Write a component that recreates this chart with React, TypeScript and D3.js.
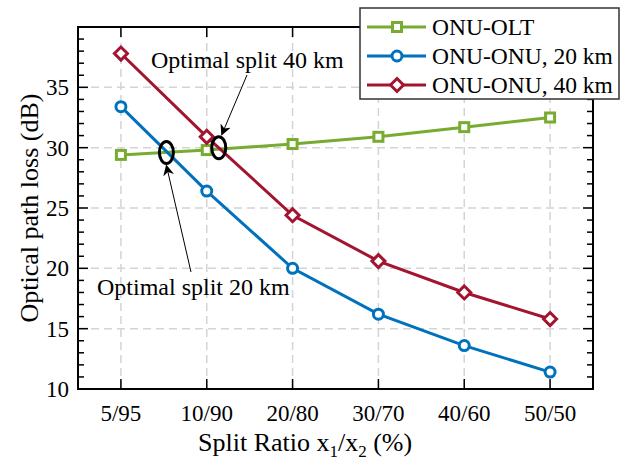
import React from "react";
import * as d3 from "d3";

const categories = ["5/95", "10/90", "20/80", "30/70", "40/60", "50/50"];
const onuOlt = [29.4, 29.8, 30.3, 30.9, 31.7, 32.5];
const onuOnu20 = [33.4, 26.4, 20.0, 16.2, 13.6, 11.4];
const onuOnu40 = [37.8, 30.9, 24.4, 20.6, 18.0, 15.8];
const yTicks = [10, 15, 20, 25, 30, 35];
const seriesNames = ["ONU-OLT", "ONU-ONU, 20 km", "ONU-ONU, 40 km"];

const W = 627;
const H = 463;
const margin = { top: 27, right: 34, bottom: 74, left: 78 };

const colors = ["#77AC30", "#0072BD", "#A2142F"];
const font = "'Liberation Serif', 'Times New Roman', serif";

function Marker({ kind, x, y, color }: { kind: string; x: number; y: number; color: string }) {
  if (kind === "square")
    return <rect x={x - 4.5} y={y - 4.5} width={9} height={9} fill="white" stroke={color} strokeWidth={3} />;
  if (kind === "circle") return <circle cx={x} cy={y} r={5} fill="white" stroke={color} strokeWidth={3} />;
  const s = 6.5;
  return (
    <path
      d={`M${x},${y - s}L${x + s},${y}L${x},${y + s}L${x - s},${y}Z`}
      fill="white"
      stroke={color}
      strokeWidth={3}
    />
  );
}

export default function App() {
  const x = d3
    .scaleLinear()
    .domain([-0.5, categories.length - 0.5])
    .range([margin.left, W - margin.right]);
  const y = d3.scaleLinear().domain([10, 40]).range([H - margin.bottom, margin.top]);
  const minor = d3.range(10, 41, 1);

  const series = [
    { name: seriesNames[0], values: onuOlt, color: colors[0], kind: "square" },
    { name: seriesNames[1], values: onuOnu20, color: colors[1], kind: "circle" },
    { name: seriesNames[2], values: onuOnu40, color: colors[2], kind: "diamond" },
  ];

  const line = d3
    .line<number>()
    .x((_, i) => x(i))
    .y((d) => y(d));

  const x0 = margin.left;
  const x1 = W - margin.right;
  const y0 = H - margin.bottom;
  const y1 = margin.top;

  // crossing points (where the ellipses go)
  const cross20 = { x: x(0.53), y: y(29.6) };
  const cross40 = { x: x(1.14), y: y(30.0) };

  return (
    <svg width={W} height={H} style={{ position: "absolute", left: 0, top: 0 }} fontFamily={font}>
      <defs>
        <marker id="arrow" viewBox="0 0 10 10" refX="9" refY="5" markerWidth="11" markerHeight="11" orient="auto-start-reverse" markerUnits="userSpaceOnUse">
          <path d="M0,0L10,5L0,10L3,5Z" fill="black" />
        </marker>
      </defs>
      <rect x={0} y={0} width={W} height={H} fill="white" />

      {/* grid */}
      <g stroke="#d4d4d4" strokeWidth={1.5} strokeDasharray="8,5">
        {yTicks.slice(1).map((t) => (
          <line key={"gy" + t} x1={x0} x2={x1} y1={y(t)} y2={y(t)} />
        ))}
        {categories.map((c, i) => (
          <line key={"gx" + c} x1={x(i)} x2={x(i)} y1={y0} y2={y1} />
        ))}
      </g>

      {/* ticks */}
      <g stroke="black" strokeWidth={1.5}>
        {minor.map((t) => {
          const len = t % 5 === 0 ? 10 : 6;
          return (
            <g key={"t" + t}>
              <line x1={x0} x2={x0 + len} y1={y(t)} y2={y(t)} />
              <line x1={x1} x2={x1 - len} y1={y(t)} y2={y(t)} />
            </g>
          );
        })}
        {categories.map((c, i) => (
          <g key={"xt" + c}>
            <line x1={x(i)} x2={x(i)} y1={y0} y2={y0 - 10} />
            <line x1={x(i)} x2={x(i)} y1={y1} y2={y1 + 10} />
          </g>
        ))}
      </g>

      {/* series */}
      {series.map((s) => (
        <g key={s.name}>
          <path d={line(s.values) || ""} fill="none" stroke={s.color} strokeWidth={3} />
          {s.values.map((v, i) => (
            <Marker key={i} kind={s.kind} x={x(i)} y={y(v)} color={s.color} />
          ))}
        </g>
      ))}

      {/* frame */}
      <rect x={x0} y={y1} width={x1 - x0} height={y0 - y1} fill="none" stroke="black" strokeWidth={2} />

      {/* annotations */}
      <ellipse cx={cross20.x} cy={cross20.y} rx={7} ry={11} fill="none" stroke="black" strokeWidth={3} />
      <ellipse cx={cross40.x} cy={cross40.y} rx={7} ry={11} fill="none" stroke="black" strokeWidth={3} />
      <line x1={191} y1={272} x2={cross20.x} y2={cross20.y + 13} stroke="black" strokeWidth={1} markerEnd="url(#arrow)" />
      <line x1={247} y1={75} x2={cross40.x + 3} y2={cross40.y - 13} stroke="black" strokeWidth={1} markerEnd="url(#arrow)" />
      <text x={151} y={68} fontSize={24}>Optimal split 40 km</text>
      <text x={97} y={295} fontSize={24}>Optimal split 20 km</text>

      {/* tick labels */}
      {yTicks.map((t) => (
        <text key={"yl" + t} x={69} y={y(t) + 8} fontSize={23} textAnchor="end">
          {t}
        </text>
      ))}
      {categories.map((c, i) => (
        <text key={"xl" + c} x={x(i)} y={421} fontSize={23} textAnchor="middle">
          {c}
        </text>
      ))}

      {/* axis labels */}
      <text x={198} y={451} fontSize={26}>
        Split Ratio x<tspan fontSize={17} dy={6}>1</tspan>
        <tspan dy={-6}>/x</tspan>
        <tspan fontSize={17} dy={6}>2</tspan>
        <tspan dy={-6}> (%)</tspan>
      </text>
      <text transform={`translate(38,${(y0 + y1) / 2}) rotate(-90)`} fontSize={26} textAnchor="middle">
        Optical path loss (dB)
      </text>

      {/* legend */}
      <g>
        <rect x={360} y={8} width={259} height={91} fill="white" stroke="#333" strokeWidth={1.5} />
        {series.map((s, i) => {
          const ly = 27 + i * 29;
          return (
            <g key={"lg" + s.name}>
              <line x1={367} x2={426} y1={ly} y2={ly} stroke={s.color} strokeWidth={3} />
              <Marker kind={s.kind} x={397} y={ly} color={s.color} />
              <text x={432} y={ly + 8} fontSize={23.5}>
                {s.name}
              </text>
            </g>
          );
        })}
      </g>
    </svg>
  );
}
